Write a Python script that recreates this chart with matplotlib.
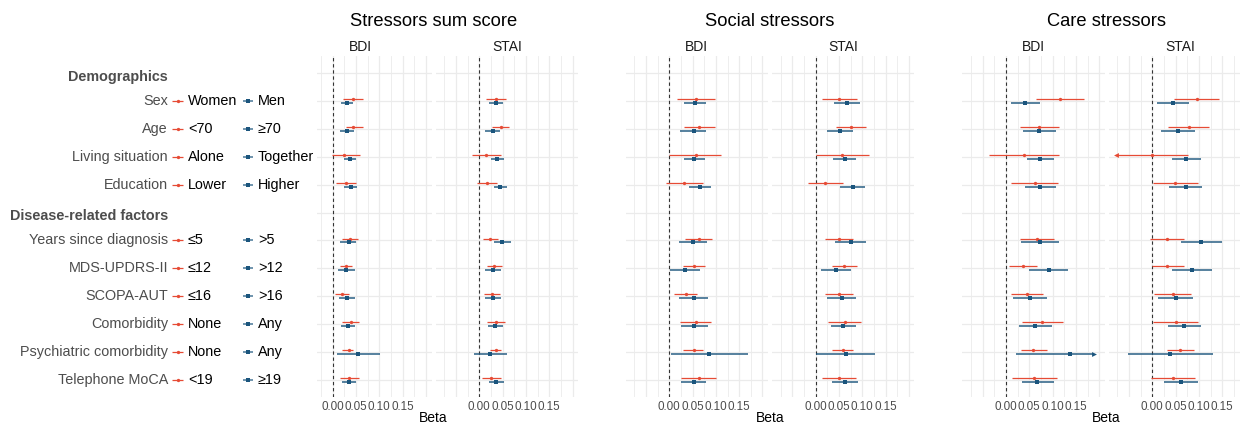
import matplotlib.pyplot as plt

plt.rcParams['font.family'] = ['Liberation Sans', 'DejaVu Sans']

# rows, top to bottom (0 and 5 are section headers)
headers = ['Demographics', 'Disease-related factors']
header_rows = [0, 5]
variables = ['Sex', 'Age', 'Living situation', 'Education',
             'Years since diagnosis', 'MDS-UPDRS-II', 'SCOPA-AUT',
             'Comorbidity', 'Psychiatric comorbidity', 'Telephone MoCA']
var_rows = [1, 2, 3, 4, 6, 7, 8, 9, 10, 11]
group_a = ['Women', '<70', 'Alone', 'Lower', '≤5', '≤12', '≤16', 'None', 'None', '<19']
group_b = ['Men', '≥70', 'Together', 'Higher', '>5', '>12', '>16', 'Any', 'Any', '≥19']

# (lower, beta, upper) per variable, group a = red, group b = blue
sum_bdi_a = [(0.023, 0.044, 0.066), (0.028, 0.044, 0.064), (-0.002, 0.025, 0.058), (0.007, 0.029, 0.051),
             (0.021, 0.038, 0.054), (0.016, 0.028, 0.042), (0.006, 0.020, 0.035), (0.021, 0.039, 0.056),
             (0.021, 0.034, 0.044), (0.016, 0.036, 0.056)]
sum_bdi_b = [(0.017, 0.030, 0.043), (0.016, 0.030, 0.046), (0.024, 0.037, 0.050), (0.025, 0.039, 0.053),
             (0.016, 0.034, 0.051), (0.011, 0.029, 0.047), (0.014, 0.031, 0.047), (0.017, 0.033, 0.048),
             (0.009, 0.055, 0.101), (0.019, 0.034, 0.049)]
sum_stai_a = [(0.014, 0.036, 0.057), (0.028, 0.046, 0.064), (-0.016, 0.014, 0.046), (-0.004, 0.016, 0.037),
              (0.009, 0.024, 0.040), (0.016, 0.031, 0.048), (0.011, 0.027, 0.044), (0.017, 0.036, 0.055),
              (0.023, 0.035, 0.047), (0.006, 0.026, 0.046)]
sum_stai_b = [(0.021, 0.036, 0.050), (0.013, 0.029, 0.044), (0.025, 0.039, 0.052), (0.031, 0.045, 0.060),
              (0.031, 0.049, 0.068), (0.012, 0.029, 0.046), (0.013, 0.029, 0.046), (0.019, 0.034, 0.050),
              (-0.012, 0.023, 0.060), (0.021, 0.036, 0.052)]
soc_bdi_a = [(0.017, 0.057, 0.097), (0.032, 0.064, 0.097), (0.000, 0.057, 0.112), (-0.008, 0.032, 0.073),
             (0.034, 0.063, 0.092), (0.029, 0.052, 0.076), (0.011, 0.035, 0.059), (0.024, 0.057, 0.089),
             (0.030, 0.052, 0.073), (0.026, 0.064, 0.100)]
soc_bdi_b = [(0.031, 0.055, 0.079), (0.024, 0.052, 0.079), (0.031, 0.054, 0.077), (0.042, 0.066, 0.090),
             (0.020, 0.050, 0.080), (0.001, 0.033, 0.066), (0.021, 0.052, 0.084), (0.026, 0.054, 0.082),
             (0.003, 0.085, 0.168), (0.025, 0.052, 0.078)]
soc_stai_a = [(0.013, 0.051, 0.088), (0.043, 0.076, 0.109), (0.000, 0.057, 0.114), (-0.017, 0.021, 0.059),
              (0.021, 0.051, 0.080), (0.034, 0.061, 0.088), (0.021, 0.050, 0.079), (0.026, 0.062, 0.097),
              (0.036, 0.058, 0.080), (0.014, 0.051, 0.087)]
soc_stai_b = [(0.040, 0.067, 0.094), (0.024, 0.052, 0.080), (0.038, 0.062, 0.086), (0.053, 0.079, 0.105),
              (0.042, 0.075, 0.108), (0.011, 0.044, 0.076), (0.025, 0.056, 0.087), (0.033, 0.059, 0.087),
              (0.001, 0.064, 0.127), (0.036, 0.063, 0.090)]
care_bdi_a = [(0.064, 0.116, 0.167), (0.029, 0.071, 0.114), (-0.036, 0.039, 0.114), (0.011, 0.062, 0.112),
              (0.030, 0.066, 0.103), (0.006, 0.036, 0.066), (0.011, 0.044, 0.079), (0.034, 0.078, 0.122),
              (0.032, 0.059, 0.087), (0.013, 0.061, 0.109)]
care_bdi_b = [(0.011, 0.041, 0.073), (0.036, 0.071, 0.107), (0.044, 0.073, 0.102), (0.041, 0.073, 0.107),
              (0.032, 0.073, 0.114), (0.049, 0.092, 0.134), (0.014, 0.051, 0.089), (0.028, 0.063, 0.098),
              (0.021, 0.137, 0.250), (0.034, 0.067, 0.102)]
care_stai_a = [(0.047, 0.095, 0.144), (0.033, 0.078, 0.122), (-0.090, 0.000, 0.077), (0.001, 0.049, 0.097),
               (-0.004, 0.031, 0.068), (-0.001, 0.032, 0.068), (0.004, 0.044, 0.084), (0.001, 0.050, 0.099),
               (0.031, 0.060, 0.089), (-0.003, 0.044, 0.092)]
care_stai_b = [(0.010, 0.044, 0.079), (0.019, 0.055, 0.092), (0.042, 0.073, 0.104), (0.036, 0.072, 0.107),
               (0.062, 0.105, 0.150), (0.042, 0.085, 0.128), (0.012, 0.050, 0.087), (0.034, 0.069, 0.104),
               (-0.052, 0.039, 0.130), (0.026, 0.062, 0.099)]

titles = ['Stressors sum score', 'Social stressors', 'Care stressors']
outcomes = ['BDI', 'STAI']
tick_vals = [0.0, 0.05, 0.10, 0.15]
clip_lo, clip_hi = -0.078, 0.188

RED = '#E64B35'
BLUE = '#1B557D'
GRID = '#EBEBEB'
W, H = 1240, 425
PX = 466.0           # pixels per beta unit
TOP, BOT = 55.9, 397.1

fig = plt.figure(figsize=(W / 100, H / 100), dpi=100)


def px_axes(x0, x1):
    return fig.add_axes([x0 / W, 1 - BOT / H, (x1 - x0) / W, (BOT - TOP) / H])


# panel layout: (zero line pixel, left pixel, right pixel)
panels = [
    (sum_bdi_a, sum_bdi_b, 332.7, 317.0, 431.5),
    (sum_stai_a, sum_stai_b, 479.3, 435.5, 578.1),
    (soc_bdi_a, soc_bdi_b, 669.3, 625.5, 768.1),
    (soc_stai_a, soc_stai_b, 815.7, 771.9, 914.5),
    (care_bdi_a, care_bdi_b, 1006.0, 962.2, 1104.8),
    (care_stai_a, care_stai_b, 1152.3, 1108.5, 1240.0),
]
strip_x = [360.2, 506.8, 696.8, 843.2, 1033.5, 1179.8]

for k, (da, db, zero, x0, x1) in enumerate(panels):
    ax = px_axes(x0, x1)
    xmin, xmax = (x0 - zero) / PX, (x1 - zero) / PX
    ax.set_xlim(xmin, xmax)
    ax.set_ylim(11.6, -0.6)
    for s in ax.spines.values():
        s.set_visible(False)
    # grid
    g = -0.075
    while g < xmax:
        if g > xmin:
            major = abs(round(g / 0.05) * 0.05 - g) < 1e-9
            ax.axvline(g, color=GRID, lw=0.9 if major else 0.6, zorder=0)
        g += 0.025
    for r in range(12):
        ax.axhline(r, color=GRID, lw=0.9, zorder=0)
    ax.axvline(0, color='#333333', lw=0.8, ls=(0, (3, 2.5)), zorder=1)

    for i, r in enumerate(var_rows):
        for data, dy, col, lw, mk, ms, al in [(da, -0.07, RED, 0.9, 'o', 2.4, 1.0),
                                              (db, 0.07, BLUE, 1.3, 's', 3.0, 0.8)]:
            lo, est, hi = data[i]
            y = r + dy
            lo_c, hi_c = max(lo, clip_lo), min(hi, clip_hi)
            ax.plot([lo_c, hi_c], [y, y], color=col, lw=lw, alpha=al,
                    solid_capstyle='butt', zorder=2)
            if hi > clip_hi:
                ax.plot(hi_c, y, marker='>', color=col, ms=3.5, mew=0, zorder=3)
            if lo < clip_lo:
                ax.plot(lo_c, y, marker='<', color=col, ms=3.5, mew=0, zorder=3)
            ax.plot(est, y, marker=mk, color=col, ms=ms, mew=0, zorder=3)

    ax.set_yticks([])
    ax.set_xticks(tick_vals)
    ax.set_xticklabels(['%.2f' % v for v in tick_vals])
    ax.tick_params(axis='x', length=0, pad=2.5, labelsize=8.4, labelcolor='#4D4D4D')
    fig.text(strip_x[k] / W, 1 - 46.7 / H, outcomes[k % 2], ha='center', va='center',
             fontsize=10, color='#1A1A1A')

# group titles and x-axis labels
pair_centers = [433.5, 770.0, 1106.6]
for t, c in zip(titles, pair_centers):
    fig.text(c / W, 1 - 21.7 / H, t, ha='center', va='center', fontsize=13.2, color='black')
    fig.text(c / W, 1 - 418.5 / H, 'Beta', ha='center', va='center', fontsize=10, color='black')

# left label column
lab = px_axes(0, 317.0)
lab.set_xlim(0, 317.0)
lab.set_ylim(11.6, -0.6)
lab.axis('off')
for h, r in zip(headers, header_rows):
    lab.text(168, r + 0.14, h, ha='right', va='center', fontsize=10.4,
             fontweight='bold', color='#4D4D4D')
for v, a, b, r in zip(variables, group_a, group_b, var_rows):
    lab.text(168, r, v, ha='right', va='center', fontsize=10.4, color='#4D4D4D')
    lab.plot([172.5, 183], [r, r], color=RED, lw=0.9, solid_capstyle='butt')
    lab.plot(177.7, r, 'o', color=RED, ms=2.4, mew=0)
    lab.text(188, r, a, ha='left', va='center', fontsize=10.4, color='black')
    lab.plot([243, 253], [r, r], color=BLUE, lw=1.1, alpha=0.8, solid_capstyle='butt')
    lab.plot(248, r, 's', color=BLUE, ms=2.6, mew=0)
    lab.text(258, r, b, ha='left', va='center', fontsize=10.4, color='black')

fig.savefig('out.png', dpi=100)
